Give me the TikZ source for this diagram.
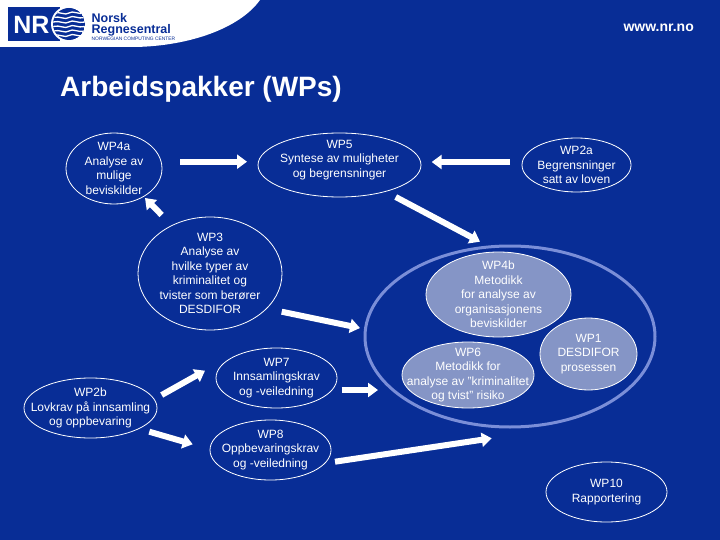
\documentclass[tikz,border=0pt]{standalone}
\usepackage{fontspec}
\setmainfont{Liberation Sans}
\usetikzlibrary{arrows.meta,calc,shapes.geometric}
\definecolor{nrblue}{HTML}{082D96}
\definecolor{nrlight}{HTML}{8595C6}
\definecolor{nrring}{HTML}{7A8ED8}

\begin{document}
\begin{tikzpicture}[x=1pt,y=-1pt,font=\fontsize{12}{14.5}\selectfont,text=white]
\tikzstyle{wp}=[draw=white,ellipse,inner sep=0pt,outer sep=0pt,line width=0.8pt]
\tikzstyle{wpin}=[wp,fill=nrlight]
\tikzstyle{wptext}=[align=center,inner sep=0pt]
\tikzstyle{fat}=[draw=white,line width=6pt,-{Triangle[length=10pt,width=14pt]}]
\useasboundingbox (0,0) rectangle (720,540);
\fill[nrblue] (0,0) rectangle (720,540);
% header
\fill[white] (0,0) -- (0,47) -- (135,47) .. controls (190,46) and (240,28) .. (260,0) -- cycle;
\fill[nrblue] (8,7) rectangle (60,41);
\fill[white] (69,24) circle (18);
\begin{scope}
\clip (69,24) circle (16);
\fill[nrblue] (69,24) circle (16);
\foreach \y in {-11,-6.5,-2,2.5,7,11.5}
  \draw[white,line width=1.3pt] (53,24+\y) .. controls (60,24+\y-2) and (65,24+\y+3) .. (69,24+\y) .. controls (73,24+\y-3) and (78,24+\y+2) .. (85,24+\y);
\end{scope}
\node[inner sep=0pt,font=\fontsize{25}{25}\bfseries\selectfont] (nr) at (31.5,25) {NR};
\node[anchor=north west,inner sep=0pt,align=left,text=nrblue,font=\fontsize{12.5}{11.5}\bfseries\selectfont] (norsk) at (91.5,12.8) {Norsk\\Regnesentral};
\node[anchor=base west,inner sep=0pt,text=nrblue,font=\fontsize{4.9}{4.9}\selectfont] (ncc) at (91.5,41) {NORWEGIAN COMPUTING CENTER};
\node[anchor=east,inner sep=0pt,font=\fontsize{14}{14}\bfseries\selectfont] (web) at (694,28) {www.nr.no};
\node[anchor=west,inner sep=0pt,font=\fontsize{28}{28}\bfseries\selectfont] (title) at (60,89) {Arbeidspakker (WPs)};
% ellipses
\node[draw=nrring,ellipse,line width=3pt,minimum width=290pt,minimum height=181pt,inner sep=0pt,outer sep=0pt] (prosess) at (510,336.5) {};
\node[wp,minimum width=96pt,minimum height=71pt,label={[wptext]center:{WP4a\\Analyse av\\mulige\\beviskilder}}] (wp4a) at (114,168.5) {};
\node[wp,minimum width=163pt,minimum height=64pt,label={[wptext,yshift=5pt]center:{WP5\\Syntese av muligheter\\og begrensninger}}] (wp5) at (339.5,165) {};
\node[wp,minimum width=144pt,minimum height=113pt,label={[wptext]center:{WP3\\Analyse av\\hvilke typer av\\kriminalitet og\\tvister som berører\\DESDIFOR}}] (wp3) at (210,273.5) {};
\node[wp,minimum width=109pt,minimum height=54pt,label={[wptext]center:{WP2a\\Begrensninger\\satt av loven}}] (wp2a) at (576.5,165) {};
\node[wpin,minimum width=145pt,minimum height=85pt,label={[wptext]center:{WP4b\\Metodikk\\for analyse av\\organisasjonens\\beviskilder}}] (wp4b) at (498.5,294.5) {};
\node[wpin,minimum width=132pt,minimum height=66pt,label={[wptext]center:{WP6\\Metodikk for\\analyse av "kriminalitet\\og tvist" risiko}}] (wp6) at (468,375) {};
\node[wpin,minimum width=97pt,minimum height=72pt,label={[wptext]center:{WP1\\DESDIFOR\\prosessen}}] (wp1) at (588.5,354) {};
\node[wp,minimum width=121pt,minimum height=60pt,label={[wptext]center:{WP7\\Innsamlingskrav\\og -veiledning}}] (wp7) at (276.5,378) {};
\node[wp,minimum width=121pt,minimum height=60pt,label={[wptext]center:{WP8\\Oppbevaringskrav\\og -veiledning}}] (wp8) at (270.5,450) {};
\node[wp,minimum width=133pt,minimum height=60pt,label={[wptext]center:{WP2b\\Lovkrav på innsamling\\og oppbevaring}}] (wp2b) at (90.5,408) {};
\node[wp,minimum width=121pt,minimum height=60pt,label={[wptext]center:{WP10\\Rapportering}}] (wp10) at (606.5,492) {};
% arrows
\draw[fat] ([shift={(18,-6.8)}]wp4a.east) -- ([shift={(-11,-3.3)}]wp5.west);
\draw[fat] ([shift={(-12,-3)}]wp2a.west) -- ([shift={(10.7,-3)}]wp5.east);
\draw[fat] ([shift={(-48.3,-2)}]wp3.north) -- ([shift={(31,-6)}]wp4a.south);
\draw[fat] ([shift={(56.2,0)}]wp5.south) -- ([shift={(-18.5,-10.3)}]wp4b.north);
\draw[fat] ([shift={(-0.3,38.2)}]wp3.east) -- ([shift={(-5,-8.5)}]prosess.west);
\draw[fat] ([shift={(4.7,12)}]wp7.east) -- ([shift={(13,53.5)}]prosess.west);
\draw[fat] ([shift={(4,11.7)}]wp8.east) -- ([shift={(-18.3,11.3)}]prosess.south);
\draw[fat] ([shift={(4.7,-13)}]wp2b.east) -- ([shift={(-11,-7.3)}]wp7.west);
\draw[fat] ([shift={(58.8,-6.3)}]wp2b.south) -- ([shift={(-17.3,-5.7)}]wp8.west);
\end{tikzpicture}
\end{document}
